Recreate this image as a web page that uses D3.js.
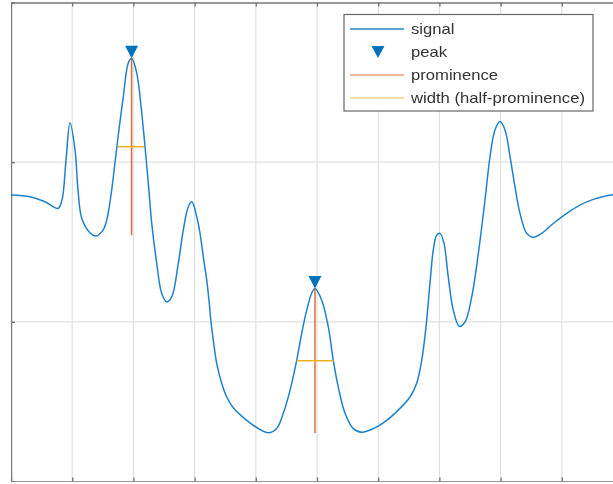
<!DOCTYPE html>
<html>
<head>
<meta charset="utf-8">
<script src="https://cdn.jsdelivr.net/npm/d3@7"></script>
<style>
  html, body { margin: 0; padding: 0; background: #fff; }
  svg { display: block; }
  text { font-family: "Liberation Sans", Arial, sans-serif; }
</style>
</head>
<body>
<svg id="chart" width="613" height="484"></svg>
<script>
// Signal samples (x in axis units 0..10, y in 0..3).
const signalX = [
  0, 0.31, 0.556, 0.768, 0.833, 0.899, 0.964, 1.046, 1.095, 1.155,
  1.275, 1.389, 1.503, 1.564, 1.645, 1.699, 1.753, 1.835, 1.917, 1.972,
  2.054, 2.136, 2.243, 2.299, 2.381, 2.462, 2.544, 2.626, 2.734,
  2.815, 2.897, 2.955, 3.034, 3.088, 3.142, 3.198, 3.24, 3.268, 3.306,
  3.361, 3.443, 3.525, 3.632, 3.851, 4.041, 4.204, 4.341, 4.449, 4.559,
  4.668, 4.75, 4.832, 4.913, 4.967, 5.077, 5.185, 5.266, 5.348, 5.458,
  5.593, 5.73, 5.92, 6.139, 6.356, 6.52, 6.629, 6.711, 6.781, 6.846,
  6.9, 6.956, 7.01, 7.075, 7.145, 7.227, 7.325, 7.418, 7.528, 7.636,
  7.745, 7.827, 7.908, 7.99, 8.072, 8.154, 8.235, 8.317, 8.427, 8.534,
  8.671, 8.861, 9.08, 9.297, 9.515, 9.734, 9.837, 10
];
const signalY = [
  1.794, 1.783, 1.752, 1.71, 1.763, 2.013, 2.247, 2.076, 1.825, 1.65,
  1.564, 1.537, 1.574, 1.637, 1.825, 1.995, 2.17, 2.41, 2.622, 2.651,
  2.559, 2.308, 1.87, 1.618, 1.367, 1.179, 1.125, 1.156, 1.367,
  1.574, 1.721, 1.752, 1.66, 1.556, 1.407, 1.261, 1.116, 0.999, 0.884,
  0.74, 0.615, 0.529, 0.462, 0.383, 0.332, 0.305, 0.332, 0.427, 0.571,
  0.759, 0.928, 1.073, 1.179, 1.209, 1.135, 0.968, 0.759, 0.591, 0.427,
  0.331, 0.309, 0.331, 0.383, 0.458, 0.529, 0.615, 0.759, 0.968, 1.242,
  1.449, 1.543, 1.554, 1.491, 1.281, 1.073, 0.972, 0.999, 1.156, 1.428,
  1.763, 2.034, 2.202, 2.254, 2.202, 2.034, 1.846, 1.679, 1.554, 1.529,
  1.554, 1.616, 1.679, 1.731, 1.767, 1.79, 1.796, 1.8
];

// Detected peaks with their prominence base and half-prominence widths.
const peakX = [1.97, 4.967];
const peakY = [2.651, 1.209];
const promBase = [1.543, 0.303];
const widthLeft = [1.748, 4.668];
const widthRight = [2.178, 5.27];

const xTicks = [0, 1, 2, 3, 4, 5, 6, 7, 8, 9, 10];
const yTicks = [0, 1, 2, 3];
const legendLabels = ["signal", "peak", "prominence", "width (half-prominence)"];

const BLUE = "#0072BD", ORANGE = "#D95319", YELLOW = "#EDB120";

const svg = d3.select("#chart");
const x = d3.scaleLinear().domain([0, 10]).range([11, 623]);
const y = d3.scaleLinear().domain([0, 3]).range([481.5, 2.5]);

// the reference is a slightly soft, upscaled capture
const plot = svg.append("g").attr("filter", "url(#soft)");
svg.append("defs").append("filter").attr("id", "soft")
  .attr("x", 0).attr("y", 0).attr("width", 1).attr("height", 1)
  .append("feGaussianBlur").attr("stdDeviation", 0.35);

// grid
plot.append("g").selectAll("line").data(xTicks.slice(1, -1)).join("line")
  .attr("x1", d => x(d)).attr("x2", d => x(d))
  .attr("y1", y(0)).attr("y2", y(3))
  .attr("stroke", "#e0e0e0").attr("stroke-width", 1.2);
plot.append("g").selectAll("line").data(yTicks.slice(1, -1)).join("line")
  .attr("x1", x(0)).attr("x2", x(10))
  .attr("y1", d => y(d)).attr("y2", d => y(d))
  .attr("stroke", "#e0e0e0").attr("stroke-width", 1.2);

// axes box with inward ticks, no labels (cropped in reference)
function styleAxis(g) {
  g.selectAll("path").attr("stroke", "#777").attr("stroke-width", 1.4);
  g.selectAll(".tick line").attr("stroke", "#777").attr("stroke-width", 1.4);
  g.selectAll("text").remove();
}
plot.append("g").attr("transform", `translate(0,${y(0)})`)
  .call(d3.axisBottom(x).tickValues(xTicks).tickSize(-4).tickSizeOuter(0).tickFormat(""))
  .call(styleAxis);
plot.append("g").attr("transform", `translate(0,${y(3)})`)
  .call(d3.axisTop(x).tickValues(xTicks).tickSize(-4).tickSizeOuter(0).tickFormat(""))
  .call(styleAxis);
plot.append("g").attr("transform", `translate(${x(0)},0)`)
  .call(d3.axisLeft(y).tickValues(yTicks).tickSize(-4).tickSizeOuter(0).tickFormat(""))
  .call(styleAxis);

// signal
const line = d3.line()
  .x(i => x(signalX[i]))
  .y(i => y(signalY[i]))
  .curve(d3.curveCatmullRom.alpha(0.5));
plot.append("path")
  .attr("d", line(d3.range(signalX.length)))
  .attr("fill", "none")
  .attr("stroke", "#1f82cc")
  .attr("stroke-width", 1.5);

// prominence and width lines
plot.append("g").selectAll("line").data(peakX).join("line")
  .attr("x1", d => x(d)).attr("x2", d => x(d))
  .attr("y1", (d, i) => y(peakY[i])).attr("y2", (d, i) => y(promBase[i]))
  .attr("stroke", ORANGE).attr("stroke-opacity", 0.85).attr("stroke-width", 1.5);
plot.append("g").selectAll("line").data(peakX).join("line")
  .attr("x1", (d, i) => x(widthLeft[i])).attr("x2", (d, i) => x(widthRight[i]))
  .attr("y1", (d, i) => y((peakY[i] + promBase[i]) / 2))
  .attr("y2", (d, i) => y((peakY[i] + promBase[i]) / 2))
  .attr("stroke", YELLOW).attr("stroke-width", 1.6);

// peak markers: downward triangles with tip on the peak
const tri = "M-6.5,-12.5 L6.5,-12.5 L0,0 Z";
plot.append("g").selectAll("path").data(peakX).join("path")
  .attr("d", tri)
  .attr("transform", (d, i) => `translate(${x(d)},${y(peakY[i])})`)
  .attr("fill", BLUE);

// legend
const lg = plot.append("g").attr("transform", "translate(344,14.5)");
lg.append("rect").attr("width", 249).attr("height", 96.5)
  .attr("fill", "#fff").attr("stroke", "#666").attr("stroke-width", 1.2);
const rowY = i => 14.5 + i * 23;
legendLabels.forEach((lab, i) => {
  const ry = rowY(i);
  if (i === 1) {
    lg.append("path").attr("d", "M-6.5,-6 L6.5,-6 L0,6 Z")
      .attr("transform", `translate(34,${ry})`).attr("fill", BLUE);
  } else {
    lg.append("line").attr("x1", 6).attr("x2", 60).attr("y1", ry).attr("y2", ry)
      .attr("stroke", [BLUE, null, ORANGE, YELLOW][i]).attr("stroke-width", 1.4)
      .attr("opacity", i === 0 ? 0.85 : 0.55);
  }
  lg.append("text")
    .attr("transform", `translate(67,${ry + 5}) scale(1.19,1)`)
    .attr("font-size", 14)
    .attr("fill", "#333")
    .text(lab);
});
</script>
</body>
</html>
